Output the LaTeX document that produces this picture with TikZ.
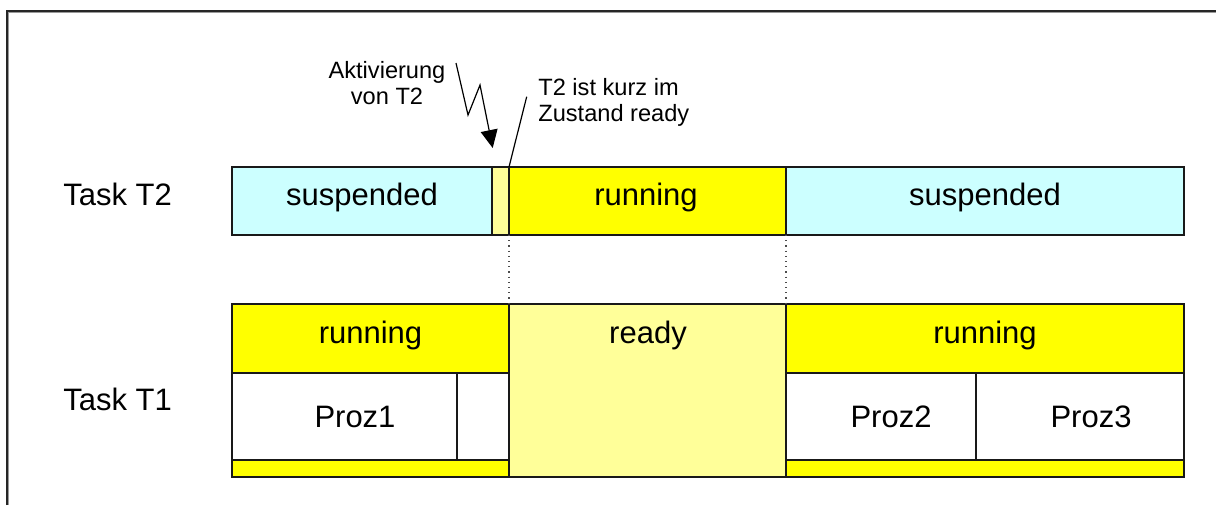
\documentclass[tikz,border=0pt]{standalone}
\usepackage{fontspec}
\setmainfont{Liberation Sans}
\usetikzlibrary{arrows.meta}
\definecolor{susp}{HTML}{CCFFFF}
\definecolor{runy}{HTML}{FFFF00}
\definecolor{ready}{HTML}{FFFF99}
\tikzset{
  cell/.style={draw=black!90, line width=0.7pt, inner sep=0pt, outer sep=0pt, rectangle},
  big/.style={font=\fontsize{15.5}{18}\selectfont, inner sep=0pt, anchor=base},
  small/.style={font=\fontsize{11.8}{13}\selectfont, inner sep=0pt},
  guide/.style={black!70, line width=0.6pt, dotted},
  thin/.style={black, line width=0.6pt}
}
\begin{document}
\begin{tikzpicture}[x=0.5pt,y=-0.5pt]
\useasboundingbox (0,0) rectangle (1216,505);
% frame
\draw[black!85, line width=0.8pt] (7,505) -- (7,11) -- (1216,11);
\draw[black!40, line width=0.4pt] (8.6,505) -- (8.6,12.6) -- (1216,12.6);
% Task T2 row
\node[cell, fill=susp, minimum width=130pt, minimum height=34pt] (s1) at (362,201) {};
\node[cell, fill=ready, minimum width=8.5pt, minimum height=34pt] (r1) at (500.5,201) {};
\node[cell, fill=runy, minimum width=138.5pt, minimum height=34pt] (run2) at (647.5,201) {};
\node[cell, fill=susp, minimum width=199pt, minimum height=34pt] (s2) at (985,201) {};
% Task T1 row
\node[cell, fill=runy, minimum width=138.5pt, minimum height=34.5pt] (runA) at (370.5,338.5) {};
\node[cell, fill=white, minimum width=112.5pt, minimum height=43.5pt] (p1) at (344.5,416.5) {};
\node[cell, fill=white, minimum width=26pt, minimum height=43.5pt] (gapc) at (483,416.5) {};
\node[cell, fill=runy, minimum width=138.5pt, minimum height=8.5pt] (barA) at (370.5,468.5) {};
\node[cell, fill=ready, minimum width=138.5pt, minimum height=86.5pt] (rdy) at (647.5,390.5) {};
\node[cell, fill=runy, minimum width=199pt, minimum height=34.5pt] (runB) at (985,338.5) {};
\node[cell, fill=white, minimum width=95pt, minimum height=43.5pt] (p2) at (881,416.5) {};
\node[cell, fill=white, minimum width=104pt, minimum height=43.5pt] (p3) at (1080,416.5) {};
\node[cell, fill=runy, minimum width=199pt, minimum height=8.5pt] (barB) at (985,468.5) {};
% texts
\node[big, anchor=base west] (t2) at (63,205) {Task T2};
\node[big, anchor=base west] (t1) at (63,410) {Task T1};
\node[big] (ls1) at (362,205) {suspended};
\node[big] (lrun2) at (646,205) {running};
\node[big] (ls2) at (985,205) {suspended};
\node[big] (lrunA) at (370.5,343) {running};
\node[big] (lrdy) at (648,343) {ready};
\node[big] (lrunB) at (985,343) {running};
\node[big] (lp1) at (355,427) {Proz1};
\node[big] (lp2) at (891,427) {Proz2};
\node[big] (lp3) at (1091,427) {Proz3};
\node[small, align=center, anchor=base] (akt) at (387,104) {Aktivierung\\von T2};
\node[small, align=left, anchor=base west] (kurz) at (538,121) {T2 ist kurz im\\Zustand ready};
% dotted guides
\draw[guide] (run2.south west) -- (rdy.north west);
\draw[guide] (run2.south east) -- (rdy.north east);
% lightning arrow
\coordinate (z0) at (456,63);
\coordinate (z1) at (468,115);
\coordinate (z2) at (480,85);
\coordinate (z3) at (492.7,148);
\draw[thin, -{Triangle[length=9pt,width=8.5pt]}] (z0) -- (z1) -- (z2) -- (z3);
% pointer line
\coordinate (k0) at (526.7,96.7);
\draw[thin] (k0) -- (run2.north west);
\end{tikzpicture}
\end{document}
